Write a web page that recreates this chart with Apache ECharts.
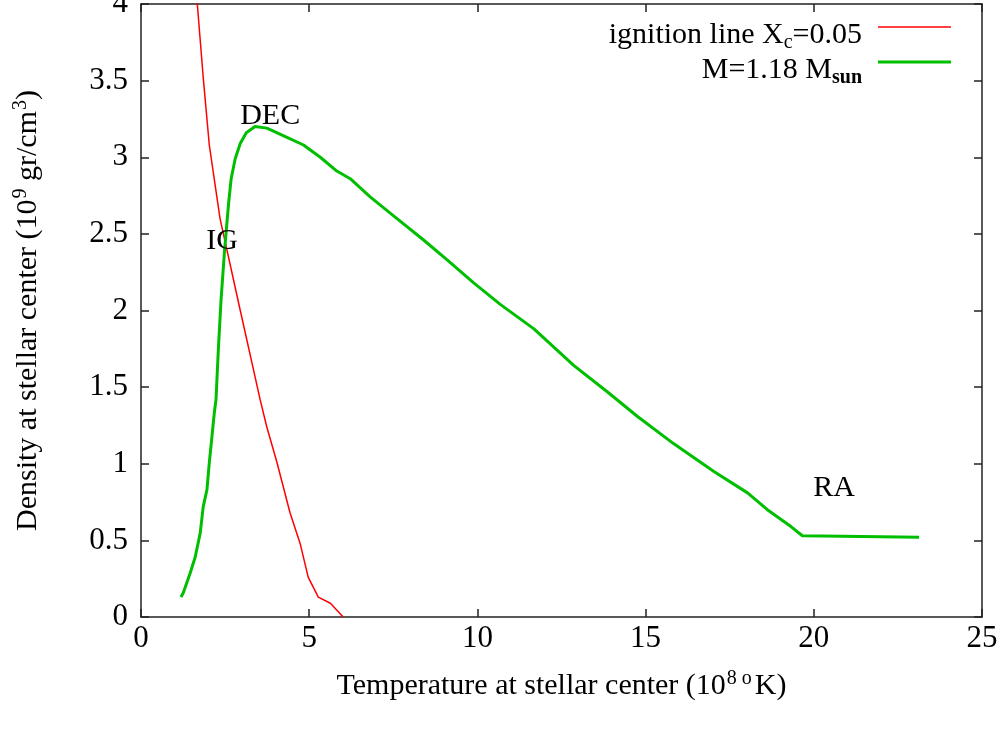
<!DOCTYPE html>
<html>
<head>
<meta charset="utf-8">
<script src="https://cdn.jsdelivr.net/npm/echarts@6/dist/echarts.min.js"></script>
<style>html,body{margin:0;padding:0;background:#fff}#c{width:1007px;height:729px}</style>
</head>
<body>
<div id="c"></div>
<script>
// Ignition line X_c = 0.05  [T (1e8 K), rho (1e9 g/cm3)]
var ignitionLine = [
  [1.67, 4.01], [1.85, 3.52], [2.03, 3.08], [2.35, 2.60], [2.88, 2.07],
  [3.54, 1.42], [3.74, 1.24], [4.04, 1.01], [4.43, 0.68], [4.73, 0.48],
  [4.97, 0.26], [5.27, 0.13], [5.63, 0.09], [6.01, 0.00]
];
// M = 1.18 Msun track
var track118 = [
  [1.19, 0.13], [1.26, 0.16], [1.46, 0.285], [1.61, 0.39], [1.76, 0.547],
  [1.85, 0.72], [1.96, 0.83], [2.03, 1.006], [2.10, 1.157], [2.18, 1.334],
  [2.23, 1.419], [2.30, 1.75], [2.38, 2.07], [2.48, 2.38], [2.60, 2.69],
  [2.68, 2.86], [2.80, 2.99], [2.95, 3.09], [3.13, 3.16], [3.39, 3.20],
  [3.74, 3.19], [4.34, 3.13], [4.83, 3.08], [5.33, 3.00], [5.82, 2.91],
  [6.22, 2.86], [6.82, 2.74], [7.61, 2.60], [8.40, 2.46], [9.10, 2.33],
  [9.89, 2.18], [10.68, 2.04], [11.68, 1.88], [12.87, 1.64], [13.86, 1.47],
  [14.75, 1.31], [15.84, 1.13], [17.03, 0.95], [18.03, 0.81], [18.62, 0.70],
  [19.32, 0.59], [19.66, 0.53], [23.13, 0.52]
];
// Phase annotations
var phaseLabels = [
  [3.84, 3.27, 'DEC'],
  [2.41, 2.45, 'IG'],
  [20.6, 0.84, 'RA']
];
var xTicks = { min: 0, max: 25, interval: 5 };
var yTicks = { min: 0, max: 4, interval: 0.5 };

var FONT = '"Liberation Serif", "DejaVu Serif", serif';
var FS = 30;
var FT = 31;
var FSUB = 20;
var axisCol = '#222';

var chart = echarts.init(document.getElementById('c'), null, { renderer: 'canvas' });

var baseAxis = {
  axisLine: { show: true, onZero: false, lineStyle: { color: axisCol, width: 1.5 } },
  axisTick: { show: true, inside: true, length: 8, lineStyle: { color: axisCol, width: 1.5 } },
  splitLine: { show: false }
};

chart.setOption({
  animation: false,
  backgroundColor: '#fff',
  grid: { left: 141, right: 25, top: 4, bottom: 112, containLabel: false, outerBoundsMode: 'none' },
  xAxis: [
    Object.assign({}, baseAxis, {
      type: 'value', position: 'bottom',
      min: xTicks.min, max: xTicks.max, interval: xTicks.interval,
      axisLabel: { color: '#000', fontFamily: FONT, fontSize: FT, margin: 6 },
      name: '{t|Temperature at stellar center (10}{sup|8 o}{t|K)}',
      nameLocation: 'middle', nameGap: 52,
      nameTextStyle: {
        fontFamily: FONT, fontSize: FS, color: '#000',
        rich: {
          t: { fontFamily: FONT, fontSize: FS, color: '#000' },
          sup: { fontFamily: FONT, fontSize: FSUB, color: '#000', padding: [0, 3, 14, 1] }
        }
      }
    }),
    Object.assign({}, baseAxis, {
      type: 'value', position: 'top',
      min: xTicks.min, max: xTicks.max, interval: xTicks.interval,
      axisLabel: { show: false }
    })
  ],
  yAxis: [
    Object.assign({}, baseAxis, {
      type: 'value', position: 'left',
      min: yTicks.min, max: yTicks.max, interval: yTicks.interval,
      axisLabel: { color: '#000', fontFamily: FONT, fontSize: FT, margin: 13 },
      name: '{t|Density at stellar center (10}{sup|9}{t| gr/cm}{sup|3}{t|)}',
      nameLocation: 'middle', nameGap: 96, nameRotate: 90,
      nameTextStyle: {
        fontFamily: FONT, fontSize: FS, color: '#000',
        rich: {
          t: { fontFamily: FONT, fontSize: FS, color: '#000' },
          sup: { fontFamily: FONT, fontSize: FSUB, color: '#000', padding: [0, 0, 14, 1] }
        }
      }
    }),
    Object.assign({}, baseAxis, {
      type: 'value', position: 'right',
      min: yTicks.min, max: yTicks.max, interval: yTicks.interval,
      axisLabel: { show: false }
    })
  ],
  series: [
    {
      name: 'ignition', type: 'line', data: ignitionLine, showSymbol: false,
      lineStyle: { color: '#ff0000', width: 1.5 }, clip: true, z: 3
    },
    {
      name: 'track', type: 'line', data: track118, showSymbol: false,
      lineStyle: { color: '#00bf00', width: 3 }, clip: true, z: 4
    },
    {
      name: 'labels', type: 'scatter', data: phaseLabels, symbolSize: 0,
      itemStyle: { color: '#000', opacity: 1 }, z: 5,
      label: {
        show: true, position: 'inside', color: '#000', textBorderWidth: 0, opacity: 1,
        fontFamily: FONT, fontSize: FS,
        formatter: function (p) { return p.data[2]; }
      }
    }
  ],
  graphic: [
    {
      type: 'text', right: 1007 - 862, top: 20,
      style: {
        text: '{t|ignition line X}{sub|c}{t|=0.05}',
        textAlign: 'right', fill: '#000',
        rich: {
          t: { fontFamily: FONT, fontSize: FS, fill: '#000' },
          sub: { fontFamily: FONT, fontSize: FSUB, fill: '#000', padding: [16, 0, 0, 0] }
        }
      }
    },
    {
      type: 'text', right: 1007 - 862, top: 55,
      style: {
        text: '{t|M=1.18 M}{sub|sun}',
        textAlign: 'right', fill: '#000',
        rich: {
          t: { fontFamily: FONT, fontSize: FS, fill: '#000' },
          sub: { fontFamily: FONT, fontSize: FSUB, fontWeight: 'bold', fill: '#000', padding: [16, 0, 0, 0] }
        }
      }
    },
    {
      type: 'line', shape: { x1: 878, y1: 27, x2: 951, y2: 27 },
      style: { stroke: '#ff0000', lineWidth: 1.5 }
    },
    {
      type: 'line', shape: { x1: 878, y1: 62, x2: 951, y2: 62 },
      style: { stroke: '#00bf00', lineWidth: 3 }
    }
  ]
});
</script>
</body>
</html>
